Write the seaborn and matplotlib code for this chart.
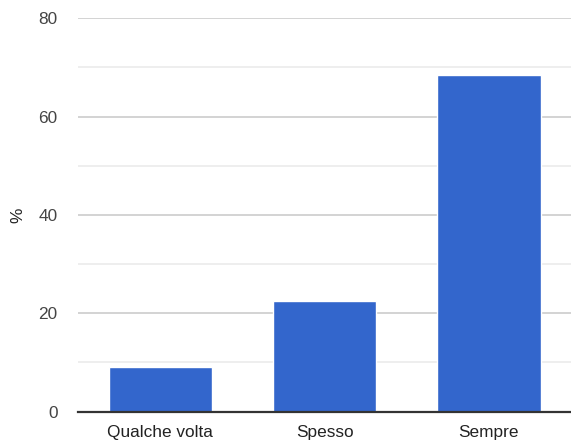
import matplotlib
matplotlib.use("Agg")
import matplotlib.pyplot as plt
import seaborn as sns
import pandas as pd
from matplotlib.ticker import MultipleLocator

# dati
categorie = ["Qualche volta", "Spesso", "Sempre"]
valori = [9.1, 22.5, 68.4]

df = pd.DataFrame({"categoria": categorie, "valore": valori})

sns.set_theme(style="white")
plt.rcParams["font.family"] = ["Liberation Sans", "DejaVu Sans"]

fig = plt.figure(figsize=(5.71, 4.43), dpi=100)
ax = fig.add_axes([0.137, 0.071, 0.863, 0.888])

sns.barplot(data=df, x="categoria", y="valore", color="#3366cc", saturation=1,
            width=0.63, ax=ax, zorder=3)

ax.set_ylim(0, 80)
ax.set_xlim(-0.5, 2.5)
ax.yaxis.set_major_locator(MultipleLocator(20))
ax.yaxis.set_minor_locator(MultipleLocator(10))
ax.grid(True, which="major", axis="y", color="#cccccc", lw=1.2, zorder=0)
ax.grid(True, which="minor", axis="y", color="#ebebeb", lw=1.2, zorder=0)

for s in ["top", "right", "left"]:
    ax.spines[s].set_visible(False)
ax.spines["bottom"].set_color("#333333")
ax.spines["bottom"].set_linewidth(1.6)
ax.spines["bottom"].set_zorder(4)

ax.tick_params(axis="both", which="both", length=0, labelsize=12.4, colors="#444444")
ax.tick_params(axis="y", pad=15)
ax.tick_params(axis="x", pad=10)
for lab in ax.get_xticklabels():
    lab.set_color("#222222")

ax.set_xlabel("")
ax.set_ylabel("%", fontsize=12.4, color="#222222", labelpad=9)

fig.savefig("out.png", dpi=100)
